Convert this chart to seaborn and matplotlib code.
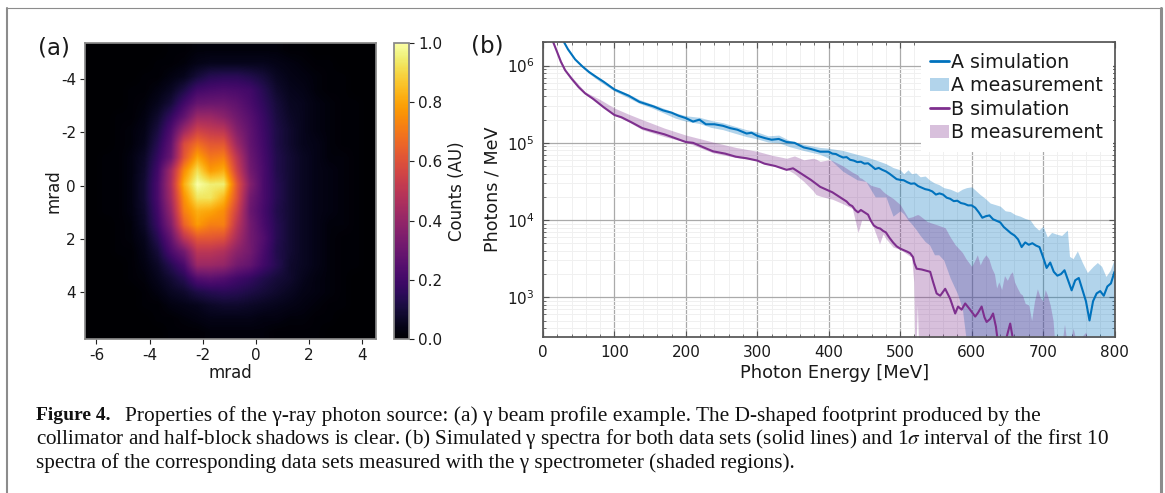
import numpy as np
import pandas as pd
import matplotlib
matplotlib.use("Agg")
import matplotlib.pyplot as plt
import seaborn as sns
from matplotlib.lines import Line2D
from matplotlib.ticker import FixedLocator, LogLocator, NullFormatter

# beam profile, counts read at 0.5 mrad steps (rows top to bottom)
profile = [
    [0, 0, 0, 0, 0, 0, .01, .01, .02, .02, .02, .02, .02, .02, .02, .01, .01, 0, 0, 0, 0, 0],
    [0, 0, 0, 0, 0, .01, .01, .02, .04, .05, .05, .05, .05, .05, .04, .03, .02, .01, .01, 0, 0, 0],
    [0, 0, 0, 0, .01, .01, .03, .05, .10, .14, .15, .15, .13, .10, .06, .04, .03, .02, .01, .01, 0, 0],
    [0, 0, 0, .01, .01, .03, .06, .12, .20, .22, .23, .22, .20, .14, .08, .05, .04, .02, .01, .01, 0, 0],
    [0, 0, 0, .01, .02, .05, .10, .20, .29, .30, .30, .27, .22, .16, .10, .06, .05, .03, .02, .01, .01, 0],
    [0, 0, .01, .01, .03, .08, .17, .28, .42, .42, .38, .31, .25, .18, .11, .07, .05, .03, .02, .01, .01, 0],
    [0, 0, .01, .02, .04, .11, .23, .42, .55, .52, .50, .36, .27, .19, .12, .08, .05, .03, .02, .01, .01, 0],
    [0, 0, .01, .02, .05, .14, .27, .58, .68, .62, .62, .42, .28, .20, .12, .08, .05, .04, .02, .01, .01, 0],
    [0, .01, .01, .03, .07, .17, .30, .62, .80, .70, .72, .50, .30, .21, .13, .09, .06, .04, .02, .02, .01, 0],
    [0, .01, .01, .03, .08, .20, .44, .75, .92, .78, .82, .55, .32, .22, .13, .09, .06, .04, .03, .02, .01, 0],
    [0, .01, .01, .03, .09, .22, .46, .82, 1.0, .95, .95, .62, .36, .22, .14, .09, .06, .04, .03, .02, .01, 0],
    [0, .01, .01, .03, .09, .22, .44, .76, .93, .93, .84, .60, .32, .22, .14, .09, .06, .04, .03, .02, .01, 0],
    [0, .01, .01, .03, .08, .20, .40, .72, .82, .80, .75, .55, .30, .21, .13, .09, .06, .04, .03, .02, .01, 0],
    [0, 0, .01, .02, .07, .18, .35, .65, .78, .72, .72, .50, .32, .22, .14, .09, .06, .04, .02, .02, .01, 0],
    [0, 0, .01, .02, .05, .14, .28, .50, .62, .62, .60, .45, .32, .24, .14, .09, .06, .04, .02, .01, .01, 0],
    [0, 0, .01, .01, .04, .10, .22, .32, .50, .50, .47, .38, .32, .22, .13, .09, .06, .04, .02, .01, .01, 0],
    [0, 0, 0, .01, .03, .07, .14, .22, .42, .42, .40, .32, .28, .20, .14, .08, .06, .04, .02, .01, .01, 0],
    [0, 0, 0, .01, .02, .05, .09, .14, .24, .26, .24, .20, .17, .13, .10, .08, .05, .03, .02, .01, 0, 0],
    [0, 0, 0, 0, .01, .03, .06, .08, .12, .14, .15, .14, .12, .10, .08, .06, .04, .03, .02, .01, 0, 0],
    [0, 0, 0, 0, .01, .01, .03, .04, .05, .07, .08, .08, .07, .06, .05, .04, .03, .02, .01, .01, 0, 0],
    [0, 0, 0, 0, 0, .01, .01, .02, .03, .04, .04, .04, .04, .03, .03, .02, .02, .01, .01, 0, 0, 0],
    [0, 0, 0, 0, 0, 0, .01, .01, .01, .02, .02, .02, .02, .02, .01, .01, .01, .01, 0, 0, 0, 0],
]

# spectra, log10(photons / MeV)
a_sim_energy = [29, 35, 45, 55, 64, 75, 85, 100, 110, 120, 135, 145, 155, 168, 180, 190, 200, 210, 219, 228, 240, 252, 262, 272, 285, 292, 300, 311, 320, 330, 341, 352, 365, 375, 388,
                400, 405, 410, 415, 420, 425, 430, 435, 440, 445, 450, 455, 460, 465, 470, 475, 480, 485, 490, 495, 500, 505, 510, 515, 520, 525, 530, 535, 540, 545, 550, 555, 560, 565, 570, 575, 580, 585, 590, 595, 600, 605, 610, 615, 620, 625, 630, 635, 640, 645, 650, 655, 660, 665, 670, 675, 680, 685, 690, 695, 700, 705, 710, 715, 720, 725, 730, 735, 740, 745, 750, 755, 760, 765, 770, 775, 780, 785, 790, 795, 800]
a_sim_log = [6.31, 6.21, 6.08, 5.99, 5.92, 5.85, 5.79, 5.69, 5.65, 5.61, 5.53, 5.50, 5.47, 5.42, 5.39, 5.35, 5.32, 5.275, 5.30, 5.24, 5.24, 5.22, 5.19, 5.17, 5.12, 5.13, 5.09, 5.06, 5.04, 5.05, 5.01, 5.00, 4.94, 4.92, 4.885,
             4.885, 4.86, 4.855, 4.83, 4.81, 4.815, 4.78, 4.77, 4.75, 4.755, 4.73, 4.735, 4.70, 4.66, 4.675, 4.65, 4.63, 4.60, 4.565, 4.53, 4.52, 4.515, 4.49, 4.47, 4.475, 4.44, 4.42, 4.40, 4.39, 4.37, 4.33, 4.345, 4.33, 4.29, 4.275, 4.245, 4.25, 4.22, 4.21, 4.19, 4.19, 4.16, 4.10, 4.03, 4.05, 4.06, 4.01, 3.99, 3.97, 3.91, 3.87, 3.83, 3.80, 3.75, 3.65, 3.71, 3.68, 3.70, 3.67, 3.65, 3.52, 3.38, 3.45, 3.33, 3.28, 3.30, 3.35, 3.22, 3.09, 3.22, 3.25, 3.10, 2.95, 2.70, 2.95, 3.05, 3.08, 3.02, 3.14, 3.18, 3.33]

b_sim_energy = [14, 20, 25, 31, 40, 50, 59, 70, 85, 100, 110, 125, 139, 150, 170, 185, 200, 210, 225, 238, 255, 270, 285, 300, 310, 325, 341, 350, 365, 375, 388,
                400, 405, 410, 415, 420, 425, 429, 433, 437, 441, 445, 450, 455, 459, 463, 468, 472, 476, 480, 485, 490, 495, 500, 505, 510, 514, 518, 520, 523, 530, 542, 546, 551, 556, 563, 570, 577, 581, 586, 591, 597, 605, 609, 614, 618, 621, 626, 630, 634, 637, 642, 648, 654, 658, 664, 700, 800]
b_sim_log = [6.31, 6.17, 6.05, 5.94, 5.83, 5.72, 5.64, 5.57, 5.46, 5.36, 5.33, 5.26, 5.19, 5.16, 5.11, 5.06, 5.01, 5.0, 4.94, 4.89, 4.86, 4.82, 4.80, 4.77, 4.73, 4.70, 4.65, 4.67, 4.58, 4.52, 4.43,
             4.38, 4.36, 4.33, 4.30, 4.27, 4.24, 4.20, 4.18, 4.13, 4.10, 4.13, 4.10, 4.07, 3.99, 3.93, 3.90, 3.89, 3.86, 3.84, 3.77, 3.71, 3.66, 3.63, 3.61, 3.59, 3.57, 3.52, 3.44, 3.37, 3.36, 3.33, 3.20, 3.05, 3.02, 3.11, 2.98, 2.79, 2.88, 2.84, 2.92, 2.85, 2.75, 2.80, 2.88, 2.74, 2.68, 2.72, 2.79, 2.62, 2.40, 2.38, 2.45, 2.66, 2.45, 2.2, 2.0, 2.0]

a_band_energy = [29, 45, 64, 80, 100, 120, 135, 150, 168, 185, 200, 219, 235, 252, 270, 285, 300, 315, 330, 345, 365, 388, 400, 420, 440, 452, 465, 480, 490, 500, 505, 511, 516, 522, 528, 535, 541, 548, 554, 561, 570, 580, 587, 593, 600, 606, 612, 619, 626, 633, 640, 647, 654, 661, 668, 675, 682, 688, 694, 700, 706, 712, 718, 726, 734, 737, 742, 748, 755, 762, 770, 776, 782, 788, 794, 800]
a_band_high = [6.31, 6.09, 5.93, 5.83, 5.71, 5.63, 5.56, 5.51, 5.45, 5.39, 5.35, 5.33, 5.29, 5.26, 5.21, 5.17, 5.14, 5.09, 5.10, 5.03, 4.98, 4.94, 4.93, 4.90, 4.85, 4.82, 4.78, 4.73, 4.68, 4.65, 4.60, 4.65, 4.60, 4.61, 4.56, 4.57, 4.52, 4.48, 4.46, 4.42, 4.40, 4.36, 4.40, 4.42, 4.43, 4.38, 4.33, 4.28, 4.22, 4.20, 4.18, 4.12, 4.11, 4.07, 4.05, 4.02, 4.00, 3.92, 3.87, 3.92, 3.78, 3.84, 3.82, 3.80, 3.87, 3.53, 3.50, 3.60, 3.45, 3.32, 3.40, 3.45, 3.40, 3.27, 3.35, 3.50]
a_band_low = [6.31, 6.07, 5.90, 5.79, 5.67, 5.58, 5.51, 5.46, 5.39, 5.32, 5.28, 5.25, 5.20, 5.17, 5.12, 5.08, 5.05, 5.01, 5.00, 4.95, 4.90, 4.85, 4.80, 4.63, 4.52, 4.50, 4.30, 4.30, 4.05, 4.12, 4.08, 4.00, 3.95, 3.88, 3.80, 3.72, 3.68, 3.55, 3.55, 3.48, 3.25, 3.05, 2.85, 2.40, 2.30, 2.0, 2.0, 2.0, 2.0, 2.0, 2.0, 2.0, 2.0, 2.0, 2.0, 2.0, 2.0, 2.0, 2.0, 2.0, 2.0, 2.0, 2.0, 2.0, 2.0, 2.0, 2.0, 2.0, 2.0, 2.0, 2.0, 2.0, 2.0, 2.0, 2.0, 2.0]

b_band_energy = [14, 31, 59, 80, 100, 120, 139, 170, 200, 238, 270, 300, 320, 341, 352, 365, 378, 382, 388, 400, 405, 420, 433, 441, 443, 446, 459, 470, 471, 476, 480, 490, 500, 511, 516, 519, 521, 524, 525, 527, 538, 551, 563, 570, 577, 587, 592, 596, 600, 604, 608, 612, 616, 620, 624, 628, 632, 635, 638, 642, 646, 650, 654, 657, 660, 664, 668, 671, 675, 680, 684, 688, 692, 696, 700, 703, 706, 710, 714, 716, 720, 725, 730, 735, 742, 750, 755, 760, 765, 800]
b_band_high = [6.31, 5.95, 5.66, 5.56, 5.45, 5.37, 5.30, 5.19, 5.10, 5.01, 4.94, 4.89, 4.84, 4.80, 4.83, 4.78, 4.80, 4.79, 4.76, 4.78, 4.77, 4.70, 4.62, 4.58, 4.55, 4.54, 4.45, 4.42, 4.42, 4.37, 4.34, 4.28, 4.20, 4.03, 4.04, 4.05, 4.06, 4.07, 4.07, 4.06, 3.98, 3.94, 3.90, 3.78, 3.68, 3.58, 3.50, 3.45, 3.40, 3.47, 3.55, 3.42, 3.50, 3.55, 3.50, 3.38, 3.30, 3.12, 3.20, 3.10, 3.28, 3.22, 3.30, 3.33, 3.20, 3.12, 3.05, 3.03, 2.92, 2.90, 2.70, 2.95, 3.11, 3.00, 2.95, 3.10, 3.03, 2.90, 2.70, 2.45, 2.30, 2.30, 2.65, 2.30, 2.60, 2.30, 2.50, 2.55, 2.30, 2.0]
b_band_low = [6.31, 5.93, 5.63, 5.50, 5.36, 5.27, 5.17, 5.08, 5.01, 4.87, 4.81, 4.77, 4.71, 4.66, 4.60, 4.50, 4.38, 4.33, 4.31, 4.28, 4.27, 4.21, 4.15, 3.84, 3.90, 4.00, 3.99, 3.72, 3.69, 3.82, 3.76, 3.65, 3.62, 3.55, 3.52, 3.20, 2.0, 2.90, 2.60, 2.0, 2.0, 2.0, 2.0, 2.0, 2.0, 2.0, 2.0, 2.0, 2.0, 2.0, 2.0, 2.0, 2.0, 2.0, 2.0, 2.0, 2.0, 2.0, 2.0, 2.0, 2.0, 2.0, 2.0, 2.0, 2.0, 2.0, 2.0, 2.0, 2.0, 2.0, 2.0, 2.0, 2.0, 2.0, 2.0, 2.0, 2.0, 2.0, 2.0, 2.0, 2.0, 2.0, 2.0, 2.0, 2.0, 2.0, 2.0, 2.0, 2.0, 2.0]

x_ticks_a = [-6, -4, -2, 0, 2, 4]
y_ticks_a = [-4, -2, 0, 2, 4]
cbar_ticks = [0.0, 0.2, 0.4, 0.6, 0.8, 1.0]

BLUE = "#0072bd"
PURPLE = "#7e2f8e"
TEXT = "#1a1a1a"
BORDER = "#8c8c8c"
FIG_W, FIG_H = 1165, 493


def px_axes(fig, left, top, right, bottom):
    return fig.add_axes([left / FIG_W, 1 - bottom / FIG_H, (right - left) / FIG_W, (bottom - top) / FIG_H])


def px_text(fig, x, y, text, **kwargs):
    return fig.text(x / FIG_W, 1 - y / FIG_H, text, va="center", **kwargs)


sns.set_theme(style="ticks")
plt.rcParams["font.family"] = ["DejaVu Sans"]
plt.rcParams["axes.unicode_minus"] = False
plt.rcParams["text.color"] = TEXT
plt.rcParams["axes.labelcolor"] = TEXT
plt.rcParams["xtick.labelcolor"] = TEXT
plt.rcParams["ytick.labelcolor"] = TEXT

fig = plt.figure(figsize=(FIG_W / 100, FIG_H / 100), dpi=100)

# (a) beam profile
ax_a = px_axes(fig, 85, 43, 375.5, 339)
img = ax_a.imshow(np.array(profile), extent=[-6.43, 4.5, 5.75, -5.35], cmap="inferno", vmin=0, vmax=1,
                  aspect="auto", interpolation="bilinear")
ax_a.set_xticks(x_ticks_a)
ax_a.set_yticks(y_ticks_a)
ax_a.tick_params(labelsize=11, length=3.5, width=0.8, pad=3, color="#222222")
ax_a.set_xlabel("mrad", fontsize=12, labelpad=1)
ax_a.set_ylabel("mrad", fontsize=12, labelpad=-1)
for spine in ax_a.spines.values():
    spine.set_color("#888888")

cax = px_axes(fig, 394, 43, 409, 339)
cbar = fig.colorbar(img, cax=cax, ticks=cbar_ticks)
cbar.ax.tick_params(labelsize=11, length=3.5, width=0.8, pad=3, color="#222222")
cbar.set_label("Counts (AU)", fontsize=12, labelpad=4)
cbar.outline.set_edgecolor("#888888")

# (b) spectra
ax_b = px_axes(fig, 543, 41.5, 1114.5, 337)
ax_b.set_yscale("log")
band_a = ax_b.fill_between(a_band_energy, 10 ** np.array(a_band_low), 10 ** np.array(a_band_high),
                           color=BLUE, alpha=0.3, lw=0, zorder=2)
band_b = ax_b.fill_between(b_band_energy, 10 ** np.array(b_band_low), 10 ** np.array(b_band_high),
                           color=PURPLE, alpha=0.3, lw=0, zorder=2)
a_sim = pd.DataFrame({"energy": a_sim_energy, "photons": 10 ** np.array(a_sim_log)})
b_sim = pd.DataFrame({"energy": b_sim_energy, "photons": 10 ** np.array(b_sim_log)})
sns.lineplot(data=a_sim, x="energy", y="photons", color=BLUE, lw=1.5, errorbar=None, ax=ax_b, zorder=3)
sns.lineplot(data=b_sim, x="energy", y="photons", color=PURPLE, lw=1.5, errorbar=None, ax=ax_b, zorder=3)
ax_b.set_xlim(0, 800)
ax_b.set_ylim(306, 2.05e6)
ax_b.xaxis.set_major_locator(FixedLocator(range(0, 801, 100)))
ax_b.xaxis.set_minor_locator(FixedLocator(range(0, 801, 20)))
ax_b.yaxis.set_major_locator(LogLocator(base=10, numticks=10))
ax_b.yaxis.set_minor_locator(LogLocator(base=10, subs=range(2, 10), numticks=10))
ax_b.yaxis.set_minor_formatter(NullFormatter())
ax_b.grid(True, which="major", color="#aaaaaa", lw=0.9)
ax_b.grid(True, which="minor", color="#f0f0f0", lw=0.7)
ax_b.set_axisbelow(True)
ax_b.tick_params(which="major", direction="in", top=True, right=True, length=4, width=0.8, labelsize=11, color="#555555", pad=6)
ax_b.tick_params(which="minor", direction="in", top=True, right=True, length=2.5, width=0.6, color="#555555")
ax_b.set_xlabel("Photon Energy [MeV]", fontsize=12.9, labelpad=2.5, x=0.511)
ax_b.set_ylabel("Photons / MeV", fontsize=12.6, labelpad=4)
for spine in ax_b.spines.values():
    spine.set_color("#555555")
    spine.set_zorder(6)

handles = [Line2D([], [], color=BLUE, lw=2), band_a, Line2D([], [], color=PURPLE, lw=2), band_b]
labels = ["A simulation", "A measurement", "B simulation", "B measurement"]
legend = ax_b.legend(handles, labels, loc="upper right", bbox_to_anchor=(1.0, 1.0), fontsize=13.7, frameon=True,
                     framealpha=1, edgecolor="none", facecolor="white", handlelength=1.0, handletextpad=0.1,
                     labelspacing=0.23, borderaxespad=0.1, borderpad=0.5, fancybox=False)
legend.set_zorder(5)

px_text(fig, 38, 48, "(a)", fontsize=16.5)
px_text(fig, 471, 46, "(b)", fontsize=16.5)

# caption
serif = ["Liberation Serif", "DejaVu Serif"]
px_text(fig, 36, 416, "Figure 4.", fontsize=14, family=serif, fontweight="bold", color="#111111")
px_text(fig, 125, 416, "Properties of the \u03b3-ray photon source: (a) \u03b3 beam profile example. The D-shaped footprint produced by the",
        fontsize=15.4, family=serif, color="#111111")
px_text(fig, 36, 439, "collimator and half-block shadows is clear. (b) Simulated \u03b3 spectra for both data sets (solid lines) and 1$\\sigma$ interval of the first 10",
        fontsize=15.2, family=serif, color="#111111", math_fontfamily="stix")
px_text(fig, 36, 463, "spectra of the corresponding data sets measured with the \u03b3 spectrometer (shaded regions).",
        fontsize=15.2, family=serif, color="#111111")

fig.add_artist(Line2D([7 / FIG_W, 7 / FIG_W], [0, 1 - 7.5 / FIG_H], color=BORDER, lw=1.5))
fig.add_artist(Line2D([1160.5 / FIG_W, 1160.5 / FIG_W], [0, 1 - 7.5 / FIG_H], color=BORDER, lw=2.2))
fig.add_artist(Line2D([6 / FIG_W, 1162 / FIG_W], [1 - 7.5 / FIG_H, 1 - 7.5 / FIG_H], color=BORDER, lw=0.8))

fig.savefig("out.png", dpi=100)
plt.close(fig)
